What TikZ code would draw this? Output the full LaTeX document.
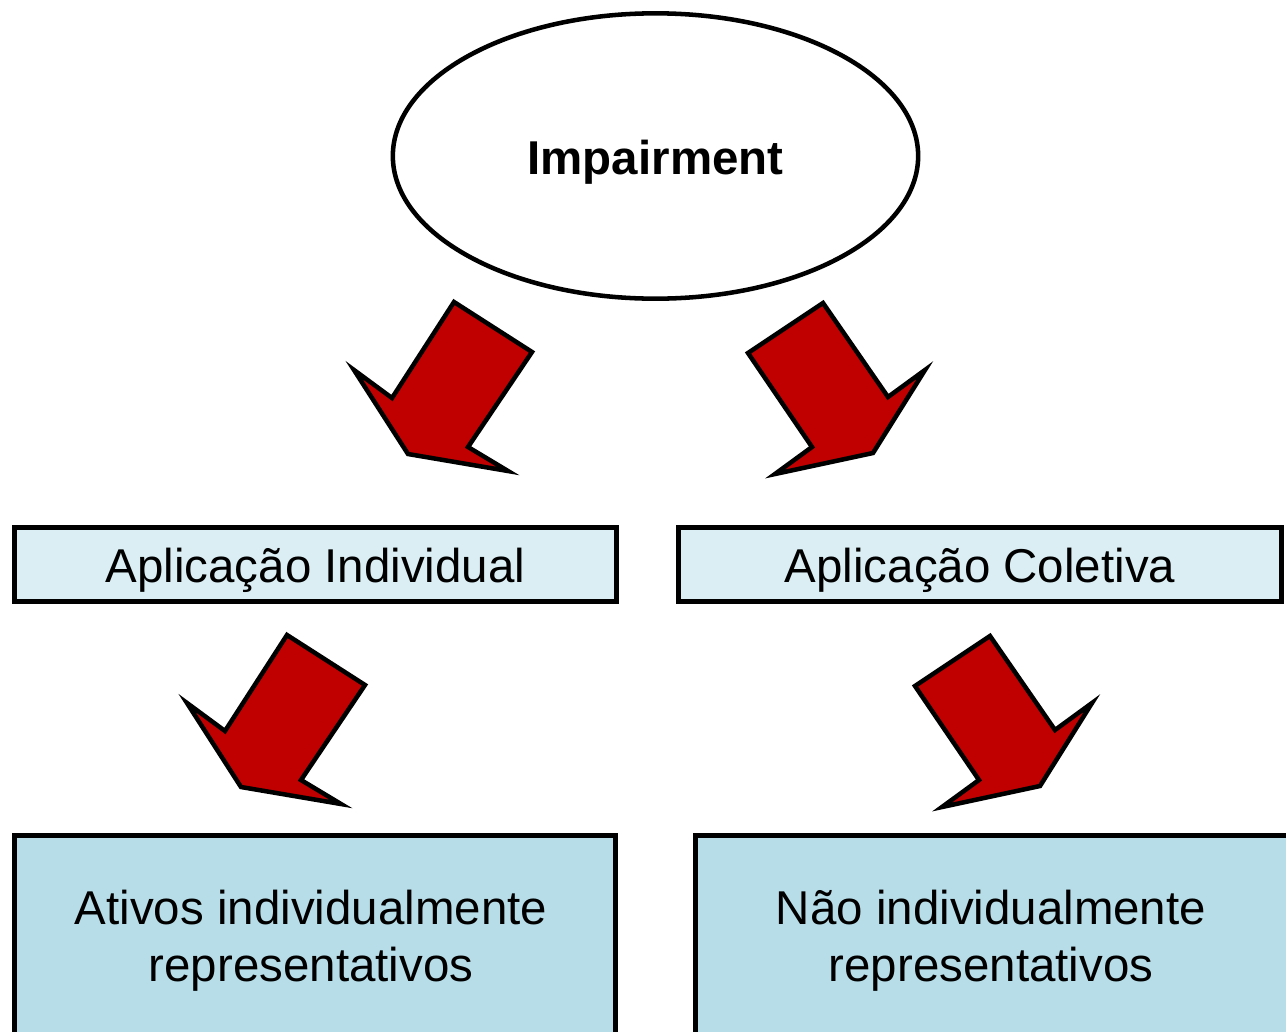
\documentclass[tikz,border=0pt]{standalone}
\usepackage{fontspec}
\setmainfont{Liberation Sans}
\usetikzlibrary{shapes.geometric}
\definecolor{arrowred}{HTML}{C00000}
\definecolor{lightbox}{HTML}{DAEEF3}
\definecolor{darkbox}{HTML}{B7DDE8}
\tikzset{
  bigarrow/.style={draw=black, fill=arrowred, line width=3.4pt, line join=miter},
  topbox/.style={draw=black, fill=lightbox, line width=3.6pt, rectangle, minimum width=452pt, minimum height=55pt, inner sep=0pt},
  lowbox/.style={draw=black, fill=darkbox, line width=3.6pt},
  txt/.style={font=\fontsize{35.6}{43}\selectfont, align=center, inner sep=0pt},
}
\newcommand{\lowered}[1]{\raisebox{-4.5pt}[\height][\depth]{#1}}
\newcommand{\leftarrowshape}{(454,302) -- (532,352) -- (468,447) -- (508,471) -- (408,454) -- (354,370) -- (392,398) -- cycle}
\newcommand{\rightarrowshape}{(823,303) -- (748,353) -- (812,447) -- (775,474) -- (873,453) -- (925,370) -- (888,397) -- cycle}
\begin{document}
\begin{tikzpicture}[x=0.75pt,y=-0.75pt]
\useasboundingbox (0,0) rectangle (1286,1032);
% ellipse
\node[ellipse, draw=black, line width=3.4pt, fill=white, minimum width=394pt, minimum height=214pt, inner sep=0pt,
      font=\fontsize{35.6}{41.5}\selectfont\bfseries] (imp) at (655.5,156) {\lowered{Impairment}};
% arrows
\draw[bigarrow] \leftarrowshape;
\draw[bigarrow] \rightarrowshape;
\begin{scope}[shift={(-167,333)}]
\draw[bigarrow] \leftarrowshape;
\end{scope}
\begin{scope}[shift={(167,333)}]
\draw[bigarrow] \rightarrowshape;
\end{scope}
% top boxes
\node[topbox, txt] (ind) at (315.5,564.5) {\lowered{Aplicação Individual}};
\node[topbox, txt] (col) at (980,564.5) {\lowered{Aplicação Coletiva}};
% bottom boxes
\draw[lowbox] (14.5,835.5) rectangle (615.5,1060);
\draw[lowbox] (695.5,835.5) rectangle (1300,1060);
\node[txt] (atv) at (311,941) {Ativos individualmente\\representativos};
\node[txt] (nao) at (991,941) {Não individualmente\\representativos};
\end{tikzpicture}
\end{document}
